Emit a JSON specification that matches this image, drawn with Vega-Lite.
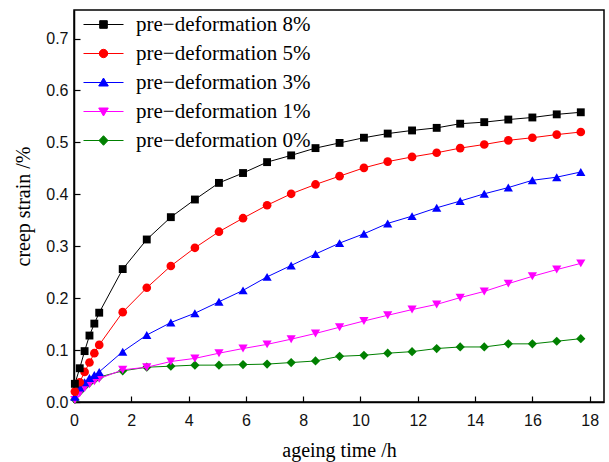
{
  "$schema": "https://vega.github.io/schema/vega-lite/v6.json",
  "width": 530,
  "height": 392,
  "autosize": "none",
  "padding": {"left": 74, "top": 10, "right": 5, "bottom": 60},
  "background": "white",
  "config": {
    "view": {"stroke": "#000000", "strokeWidth": 1.5},
    "axis": {
      "grid": false,
      "domainColor": "#000000",
      "domainWidth": 1.5,
      "tickColor": "#000000",
      "tickWidth": 1.2,
      "tickSize": -6,
      "labelFont": "Liberation Sans",
      "labelFontSize": 16,
      "labelColor": "#111111",
      "titleFont": "Liberation Serif",
      "titleFontSize": 20,
      "titleFontWeight": "normal",
      "titleColor": "#000000"
    },
    "legend": {
      "orient": "top-left",
      "offset": 4,
      "padding": 0,
      "symbolSize": 400,
      "symbolOpacity": 1,
      "symbolStrokeWidth": 1,
      "symbolFillColor": "#000000",
      "labelFont": "Liberation Serif",
      "labelFontSize": 21,
      "labelColor": "#000000",
      "labelOffset": 37,
      "rowPadding": 7,
      "labelLimit": 400
    }
  },
  "data": {
    "values": [
      {"s": "pre−deformation 8%", "t": 0.03, "v": 0.035},
      {"s": "pre−deformation 8%", "t": 0.2, "v": 0.065},
      {"s": "pre−deformation 8%", "t": 0.37, "v": 0.098},
      {"s": "pre−deformation 8%", "t": 0.54, "v": 0.128},
      {"s": "pre−deformation 8%", "t": 0.71, "v": 0.151},
      {"s": "pre−deformation 8%", "t": 0.88, "v": 0.172},
      {"s": "pre−deformation 8%", "t": 1.7, "v": 0.256},
      {"s": "pre−deformation 8%", "t": 2.54, "v": 0.313},
      {"s": "pre−deformation 8%", "t": 3.38, "v": 0.356},
      {"s": "pre−deformation 8%", "t": 4.22, "v": 0.39},
      {"s": "pre−deformation 8%", "t": 5.06, "v": 0.422},
      {"s": "pre−deformation 8%", "t": 5.9, "v": 0.441},
      {"s": "pre−deformation 8%", "t": 6.74, "v": 0.462},
      {"s": "pre−deformation 8%", "t": 7.58, "v": 0.475},
      {"s": "pre−deformation 8%", "t": 8.43, "v": 0.489},
      {"s": "pre−deformation 8%", "t": 9.27, "v": 0.499},
      {"s": "pre−deformation 8%", "t": 10.12, "v": 0.509},
      {"s": "pre−deformation 8%", "t": 10.95, "v": 0.517},
      {"s": "pre−deformation 8%", "t": 11.8, "v": 0.523},
      {"s": "pre−deformation 8%", "t": 12.66, "v": 0.528},
      {"s": "pre−deformation 8%", "t": 13.48, "v": 0.536},
      {"s": "pre−deformation 8%", "t": 14.32, "v": 0.539},
      {"s": "pre−deformation 8%", "t": 15.16, "v": 0.544},
      {"s": "pre−deformation 8%", "t": 16.0, "v": 0.548},
      {"s": "pre−deformation 8%", "t": 16.85, "v": 0.554},
      {"s": "pre−deformation 8%", "t": 17.69, "v": 0.558},

      {"s": "pre−deformation 5%", "t": 0.03, "v": 0.02},
      {"s": "pre−deformation 5%", "t": 0.2, "v": 0.038},
      {"s": "pre−deformation 5%", "t": 0.37, "v": 0.058},
      {"s": "pre−deformation 5%", "t": 0.54, "v": 0.076},
      {"s": "pre−deformation 5%", "t": 0.71, "v": 0.094},
      {"s": "pre−deformation 5%", "t": 0.88, "v": 0.11},
      {"s": "pre−deformation 5%", "t": 1.7, "v": 0.173},
      {"s": "pre−deformation 5%", "t": 2.54, "v": 0.22},
      {"s": "pre−deformation 5%", "t": 3.38, "v": 0.262},
      {"s": "pre−deformation 5%", "t": 4.22, "v": 0.297},
      {"s": "pre−deformation 5%", "t": 5.06, "v": 0.328},
      {"s": "pre−deformation 5%", "t": 5.9, "v": 0.354},
      {"s": "pre−deformation 5%", "t": 6.74, "v": 0.379},
      {"s": "pre−deformation 5%", "t": 7.58, "v": 0.401},
      {"s": "pre−deformation 5%", "t": 8.43, "v": 0.419},
      {"s": "pre−deformation 5%", "t": 9.27, "v": 0.435},
      {"s": "pre−deformation 5%", "t": 10.12, "v": 0.451},
      {"s": "pre−deformation 5%", "t": 10.95, "v": 0.463},
      {"s": "pre−deformation 5%", "t": 11.8, "v": 0.472},
      {"s": "pre−deformation 5%", "t": 12.66, "v": 0.48},
      {"s": "pre−deformation 5%", "t": 13.48, "v": 0.489},
      {"s": "pre−deformation 5%", "t": 14.32, "v": 0.496},
      {"s": "pre−deformation 5%", "t": 15.16, "v": 0.504},
      {"s": "pre−deformation 5%", "t": 16.0, "v": 0.509},
      {"s": "pre−deformation 5%", "t": 16.85, "v": 0.515},
      {"s": "pre−deformation 5%", "t": 17.69, "v": 0.52},

      {"s": "pre−deformation 3%", "t": 0.03, "v": 0.01},
      {"s": "pre−deformation 3%", "t": 0.2, "v": 0.028},
      {"s": "pre−deformation 3%", "t": 0.37, "v": 0.038},
      {"s": "pre−deformation 3%", "t": 0.54, "v": 0.046},
      {"s": "pre−deformation 3%", "t": 0.71, "v": 0.052},
      {"s": "pre−deformation 3%", "t": 0.88, "v": 0.058},
      {"s": "pre−deformation 3%", "t": 1.7, "v": 0.097},
      {"s": "pre−deformation 3%", "t": 2.54, "v": 0.129},
      {"s": "pre−deformation 3%", "t": 3.38, "v": 0.153},
      {"s": "pre−deformation 3%", "t": 4.22, "v": 0.171},
      {"s": "pre−deformation 3%", "t": 5.06, "v": 0.193},
      {"s": "pre−deformation 3%", "t": 5.9, "v": 0.215},
      {"s": "pre−deformation 3%", "t": 6.74, "v": 0.241},
      {"s": "pre−deformation 3%", "t": 7.58, "v": 0.263},
      {"s": "pre−deformation 3%", "t": 8.43, "v": 0.285},
      {"s": "pre−deformation 3%", "t": 9.27, "v": 0.306},
      {"s": "pre−deformation 3%", "t": 10.12, "v": 0.324},
      {"s": "pre−deformation 3%", "t": 10.95, "v": 0.344},
      {"s": "pre−deformation 3%", "t": 11.8, "v": 0.358},
      {"s": "pre−deformation 3%", "t": 12.66, "v": 0.374},
      {"s": "pre−deformation 3%", "t": 13.48, "v": 0.387},
      {"s": "pre−deformation 3%", "t": 14.32, "v": 0.401},
      {"s": "pre−deformation 3%", "t": 15.16, "v": 0.413},
      {"s": "pre−deformation 3%", "t": 16.0, "v": 0.427},
      {"s": "pre−deformation 3%", "t": 16.85, "v": 0.433},
      {"s": "pre−deformation 3%", "t": 17.69, "v": 0.443},

      {"s": "pre−deformation 1%", "t": 0.03, "v": 0.004},
      {"s": "pre−deformation 1%", "t": 0.2, "v": 0.017},
      {"s": "pre−deformation 1%", "t": 0.37, "v": 0.027},
      {"s": "pre−deformation 1%", "t": 0.54, "v": 0.034},
      {"s": "pre−deformation 1%", "t": 0.71, "v": 0.04},
      {"s": "pre−deformation 1%", "t": 0.88, "v": 0.045},
      {"s": "pre−deformation 1%", "t": 1.7, "v": 0.062},
      {"s": "pre−deformation 1%", "t": 2.54, "v": 0.067},
      {"s": "pre−deformation 1%", "t": 3.38, "v": 0.078},
      {"s": "pre−deformation 1%", "t": 4.22, "v": 0.084},
      {"s": "pre−deformation 1%", "t": 5.06, "v": 0.094},
      {"s": "pre−deformation 1%", "t": 5.9, "v": 0.103},
      {"s": "pre−deformation 1%", "t": 6.74, "v": 0.111},
      {"s": "pre−deformation 1%", "t": 7.58, "v": 0.121},
      {"s": "pre−deformation 1%", "t": 8.43, "v": 0.132},
      {"s": "pre−deformation 1%", "t": 9.27, "v": 0.144},
      {"s": "pre−deformation 1%", "t": 10.12, "v": 0.156},
      {"s": "pre−deformation 1%", "t": 10.95, "v": 0.167},
      {"s": "pre−deformation 1%", "t": 11.8, "v": 0.178},
      {"s": "pre−deformation 1%", "t": 12.66, "v": 0.188},
      {"s": "pre−deformation 1%", "t": 13.48, "v": 0.201},
      {"s": "pre−deformation 1%", "t": 14.32, "v": 0.213},
      {"s": "pre−deformation 1%", "t": 15.16, "v": 0.228},
      {"s": "pre−deformation 1%", "t": 16.0, "v": 0.242},
      {"s": "pre−deformation 1%", "t": 16.85, "v": 0.255},
      {"s": "pre−deformation 1%", "t": 17.69, "v": 0.267},

      {"s": "pre−deformation 0%", "t": 0.03, "v": 0.005},
      {"s": "pre−deformation 0%", "t": 0.2, "v": 0.02},
      {"s": "pre−deformation 0%", "t": 0.37, "v": 0.03},
      {"s": "pre−deformation 0%", "t": 0.54, "v": 0.037},
      {"s": "pre−deformation 0%", "t": 0.71, "v": 0.043},
      {"s": "pre−deformation 0%", "t": 0.88, "v": 0.048},
      {"s": "pre−deformation 0%", "t": 1.7, "v": 0.06},
      {"s": "pre−deformation 0%", "t": 2.54, "v": 0.067},
      {"s": "pre−deformation 0%", "t": 3.38, "v": 0.069},
      {"s": "pre−deformation 0%", "t": 4.22, "v": 0.071},
      {"s": "pre−deformation 0%", "t": 5.06, "v": 0.071},
      {"s": "pre−deformation 0%", "t": 5.9, "v": 0.072},
      {"s": "pre−deformation 0%", "t": 6.74, "v": 0.073},
      {"s": "pre−deformation 0%", "t": 7.58, "v": 0.076},
      {"s": "pre−deformation 0%", "t": 8.43, "v": 0.079},
      {"s": "pre−deformation 0%", "t": 9.27, "v": 0.088},
      {"s": "pre−deformation 0%", "t": 10.12, "v": 0.09},
      {"s": "pre−deformation 0%", "t": 10.95, "v": 0.094},
      {"s": "pre−deformation 0%", "t": 11.8, "v": 0.097},
      {"s": "pre−deformation 0%", "t": 12.66, "v": 0.103},
      {"s": "pre−deformation 0%", "t": 13.48, "v": 0.106},
      {"s": "pre−deformation 0%", "t": 14.32, "v": 0.106},
      {"s": "pre−deformation 0%", "t": 15.16, "v": 0.112},
      {"s": "pre−deformation 0%", "t": 16.0, "v": 0.112},
      {"s": "pre−deformation 0%", "t": 16.85, "v": 0.117},
      {"s": "pre−deformation 0%", "t": 17.69, "v": 0.122}
    ]
  },
  "encoding": {
    "x": {
      "field": "t", "type": "quantitative",
      "scale": {"domain": [0, 18.5], "nice": false, "zero": false},
      "axis": {"title": "ageing time /h", "values": [0, 2, 4, 6, 8, 10, 12, 14, 16, 18], "format": "d", "labelPadding": 16, "titlePadding": 12, "labelFlush": false}
    },
    "y": {
      "field": "v", "type": "quantitative",
      "scale": {"domain": [0, 0.755], "nice": false},
      "axis": {"title": "creep strain /%", "values": [0, 0.1, 0.2, 0.3, 0.4, 0.5, 0.6, 0.7], "format": ".1f", "labelPadding": 12, "titlePadding": 12, "labelFlush": false}
    }
  },
  "layer": [
    {
      "transform": [{"filter": {"field": "s", "equal": "pre−deformation 0%"}}],
      "layer": [
        {"mark": {"type": "line", "strokeWidth": 1, "color": "#008000"}, "encoding": {}},
        {"mark": {"type": "point", "filled": true, "opacity": 1, "size": 85, "shape": "diamond", "color": "#008000"}}
      ]
    },
    {
      "transform": [{"filter": {"field": "s", "equal": "pre−deformation 1%"}}],
      "layer": [
        {"mark": {"type": "line", "strokeWidth": 1, "color": "#ff00ff"}, "encoding": {}},
        {"mark": {"type": "point", "filled": true, "opacity": 1, "size": 85, "shape": "triangle-down", "color": "#ff00ff"}}
      ]
    },
    {
      "transform": [{"filter": {"field": "s", "equal": "pre−deformation 3%"}}],
      "layer": [
        {"mark": {"type": "line", "strokeWidth": 1, "color": "#0000ff"}, "encoding": {}},
        {"mark": {"type": "point", "filled": true, "opacity": 1, "size": 85, "shape": "triangle-up", "color": "#0000ff"}}
      ]
    },
    {
      "transform": [{"filter": {"field": "s", "equal": "pre−deformation 5%"}}],
      "layer": [
        {"mark": {"type": "line", "strokeWidth": 1, "color": "#ff0000"}, "encoding": {}},
        {"mark": {"type": "point", "filled": true, "opacity": 1, "size": 75, "shape": "circle", "color": "#ff0000"}}
      ]
    },
    {
      "transform": [{"filter": {"field": "s", "equal": "pre−deformation 8%"}}],
      "layer": [
        {"mark": {"type": "line", "strokeWidth": 1, "color": "#000000"}, "encoding": {}},
        {"mark": {"type": "point", "filled": true, "opacity": 1, "size": 62, "shape": "square", "color": "#000000"}}
      ]
    },
    {
      "mark": {"type": "point", "filled": true, "opacity": 0, "size": 1},
      "encoding": {
        "fill": {
          "field": "s", "type": "nominal",
          "legend": {"title": null},
          "scale": {
            "domain": ["pre−deformation 8%", "pre−deformation 5%", "pre−deformation 3%", "pre−deformation 1%", "pre−deformation 0%"],
            "range": ["#000000", "#ff0000", "#0000ff", "#ff00ff", "#008000"]
          }
        },
        "stroke": {
          "field": "s", "type": "nominal",
          "legend": {"title": null},
          "scale": {
            "domain": ["pre−deformation 8%", "pre−deformation 5%", "pre−deformation 3%", "pre−deformation 1%", "pre−deformation 0%"],
            "range": ["#000000", "#ff0000", "#0000ff", "#ff00ff", "#008000"]
          }
        },
        "shape": {
          "field": "s", "type": "nominal",
          "legend": {"title": null},
          "scale": {
            "domain": ["pre−deformation 8%", "pre−deformation 5%", "pre−deformation 3%", "pre−deformation 1%", "pre−deformation 0%"],
            "range": [
              "M-0.5,0H3.5M1.12,-0.38H1.88V0.38H1.12Z",
              "M-0.5,0H3.5M1.92,0A0.42,0.42 0 1,1 1.08,0A0.42,0.42 0 1,1 1.92,0Z",
              "M-0.5,0H3.5M1.5,-0.45L1.98,0.35H1.02Z",
              "M-0.5,0H3.5M1.5,0.45L1.98,-0.35H1.02Z",
              "M-0.5,0H3.5M1.5,-0.48L1.95,0L1.5,0.48L1.05,0Z"
            ]
          }
        }
      }
    }
  ]
}
